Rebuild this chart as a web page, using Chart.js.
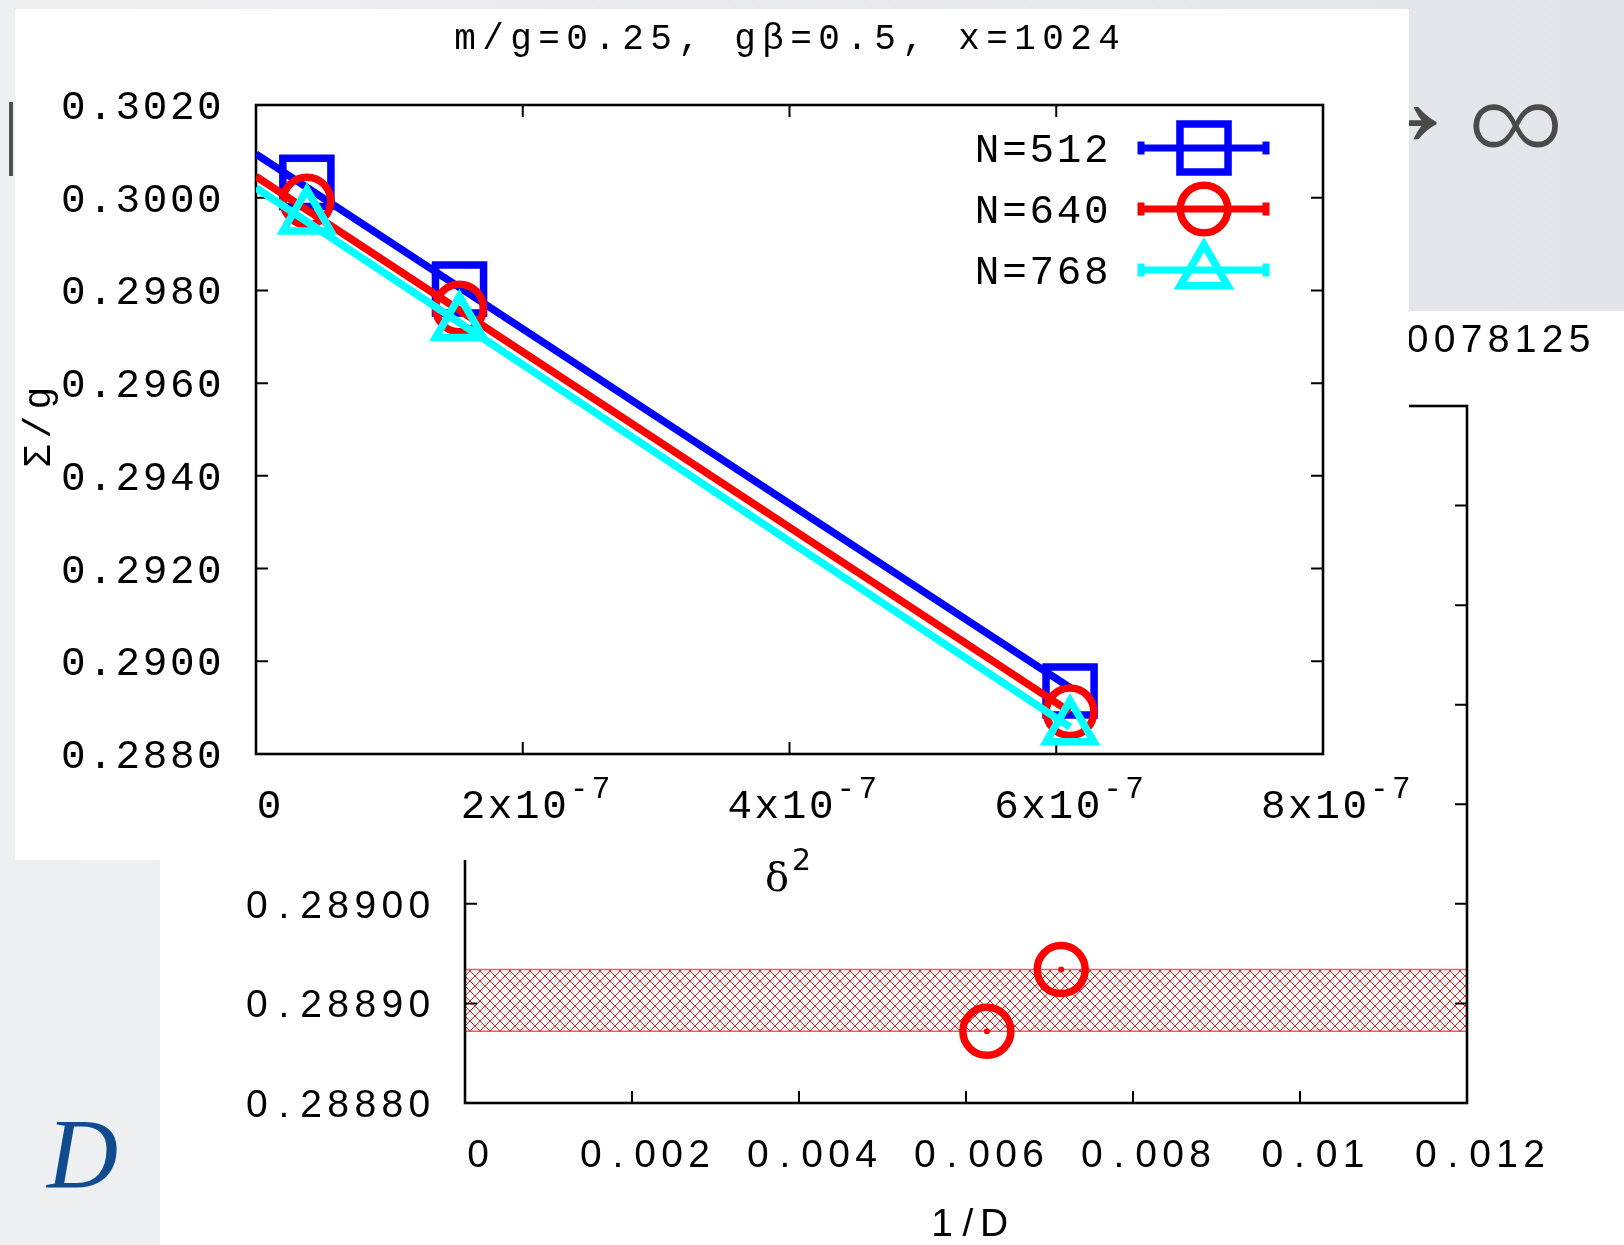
<!DOCTYPE html>
<html>
<head>
<meta charset="utf-8">
<title>Sigma/g vs delta^2 and 1/D</title>
<script src="https://cdn.jsdelivr.net/npm/chart.js@4.4.1/dist/chart.umd.min.js"></script>
<style>
  html, body { margin: 0; padding: 0; }
  body { width: 1624px; height: 1245px; overflow: hidden; position: relative; background: #e8eaed; }
  canvas { display: block; }
  #backdrop { position: absolute; left: 0; top: 0; }
  #insetWrap { position: absolute; left: 160px; top: 311px; width: 1464px; height: 934px; background: #ffffff; }
  #panel { position: absolute; left: 15px; top: 9px; width: 1394px; height: 851px; background: #ffffff; }
  #mainWrap { position: absolute; left: 0; top: 0; width: 1624px; height: 940px; }
</style>
</head>
<body>
<canvas id="backdrop" width="1624" height="1245"></canvas>
<div id="insetWrap"><canvas id="inset" width="1464" height="934"></canvas></div>
<div id="panel"></div>
<div id="mainWrap"><canvas id="main" width="1624" height="940"></canvas></div>

<script>
// ---------- main plot: Sigma/g against delta^2 ----------
const mainTitle = 'm/g=0.25, gβ=0.5, x=1024';
const seriesLabels = ['N=512', 'N=640', 'N=768'];
const deltaSq = [3.8147e-8, 1.5259e-7, 6.1035e-7];
const sigmaN512 = [0.30033, 0.29803, 0.28936];
const sigmaN640 = [0.29993, 0.29762, 0.28891];
const sigmaN768 = [0.29958, 0.29728, 0.28856];
// linear fits, evaluated at delta^2 = 0 and at the largest delta^2
const fitDeltaSq = [0, 6.1035e-7];
const fitN512 = [0.30094, 0.28943];
const fitN640 = [0.30046, 0.28891];
const fitN768 = [0.30021, 0.28858];
const xTicksMain = [0, 2e-7, 4e-7, 6e-7, 8e-7];
const xTickLabelsMain = ['0', '2x10', '4x10', '6x10', '8x10'];
const xTickExpMain = ['', '-7', '-7', '-7', '-7'];
const yTicksMain = [0.2880, 0.2900, 0.2920, 0.2940, 0.2960, 0.2980, 0.3000, 0.3020];
const yTickLabelsMain = ['0.2880', '0.2900', '0.2920', '0.2940', '0.2960', '0.2980', '0.3000', '0.3020'];

// ---------- inset: Sigma/g against 1/D ----------
const insetTitleTail = '0078125';
const invD = [0.00625, 0.00714];
const sigmaInset = [0.288872, 0.288934];
const bandX = [0, 0.012];
const bandLower = [0.288872, 0.288872];
const bandUpper = [0.288934, 0.288934];
const xTicksInset = [0, 0.002, 0.004, 0.006, 0.008, 0.010, 0.012];
const xTickLabelsInset = ['0', '0.002', '0.004', '0.006', '0.008', '0.01', '0.012'];
const yTicksInset = [0.28880, 0.28890, 0.28900, 0.28910, 0.28920, 0.28930, 0.28940, 0.28950];
const yTickLabelsInset = ['0.28880', '0.28890', '0.28900', '0.28910', '0.28920', '0.28930', '0.28940', '0.28950'];

const MONO = '"Liberation Mono", "DejaVu Sans Mono", monospace';
const SANS = '"Liberation Sans", Arial, sans-serif';

function toPoints(xs, ys) { return xs.map((x, i) => ({ x: x, y: ys[i] })); }

// draw a string with a fixed advance per character
function spacedText(ctx, str, x, baseline, pitch, align) {
  const chars = Array.from(str);
  const w = chars.length * pitch;
  const x0 = align === 'right' ? x - w : (align === 'center' ? x - w / 2 : x);
  ctx.save();
  ctx.textAlign = 'center';
  ctx.textBaseline = 'alphabetic';
  chars.forEach((c, i) => ctx.fillText(c, x0 + pitch * (i + 0.5), baseline));
  ctx.restore();
  return w;
}

function drawMarker(ctx, style, x, y, r) {
  ctx.beginPath();
  if (style === 'rect') {
    const s = Math.SQRT1_2 * r;
    ctx.rect(x - s, y - s, 2 * s, 2 * s);
  } else if (style === 'circle') {
    ctx.arc(x, y, r, 0, Math.PI * 2);
  } else {
    const a = 2 * Math.PI / 3;
    ctx.moveTo(x, y - r);
    ctx.lineTo(x + Math.sin(a) * r, y - Math.cos(a) * r);
    ctx.lineTo(x + Math.sin(2 * a) * r, y - Math.cos(2 * a) * r);
    ctx.closePath();
  }
  ctx.stroke();
}

// ---------- backdrop of the slide ----------
(function drawBackdrop() {
  const c = document.getElementById('backdrop');
  const ctx = c.getContext('2d');
  const g = ctx.createLinearGradient(0, 0, 1624, 0);
  g.addColorStop(0, '#eef0f2');
  g.addColorStop(1, '#e2e5e9');
  ctx.fillStyle = g;
  ctx.fillRect(0, 0, 1624, 1245);

  ctx.fillStyle = '#4f4f4f';
  ctx.fillRect(9, 102, 4, 74);

  function glyphByHeight(ch, font, targetH, left, right, top) {
    ctx.font = font(100);
    let m = ctx.measureText(ch);
    const size = 100 * targetH / (m.actualBoundingBoxAscent + m.actualBoundingBoxDescent);
    ctx.font = font(size);
    m = ctx.measureText(ch);
    ctx.textAlign = 'left';
    ctx.textBaseline = 'alphabetic';
    const x = left !== null ? left + m.actualBoundingBoxLeft : right - m.actualBoundingBoxRight;
    ctx.fillText(ch, x, top + m.actualBoundingBoxAscent);
  }
  ctx.fillStyle = '#4a4a4a';
  glyphByHeight('∞', s => '300 ' + s + 'px "Open Sans", "Noto Sans", sans-serif', 44, 1473, null, 104);
  glyphByHeight('→', s => '300 ' + s + 'px "Open Sans", "Noto Sans", sans-serif', 33, null, 1437, 107);
  ctx.fillStyle = '#0f4b8e';
  glyphByHeight('D', s => 'italic ' + s + 'px "Liberation Serif"', 65, 45, null, 1122);
})();

// ---------- inset chart ----------
function hatchPattern() {
  const n = 10;
  const c = document.createElement('canvas');
  c.width = n; c.height = n;
  const g = c.getContext('2d');
  g.strokeStyle = '#ff1a1a';
  g.lineWidth = 1;
  g.beginPath();
  g.moveTo(-1, -1); g.lineTo(n + 1, n + 1);
  g.moveTo(n + 1, -1); g.lineTo(-1, n + 1);
  g.stroke();
  return g.createPattern(c, 'repeat');
}

const insetDecor = {
  id: 'insetDecor',
  afterDatasetsDraw(chart) {
    const { ctx, chartArea: a, scales: { x, y } } = chart;
    ctx.save();
    ctx.strokeStyle = '#000';
    ctx.lineWidth = 2.6;
    ctx.strokeRect(a.left, a.top, a.right - a.left, a.bottom - a.top);
    ctx.lineWidth = 2;
    ctx.beginPath();
    xTicksInset.forEach(v => {
      const px = x.getPixelForValue(v);
      ctx.moveTo(px, a.bottom); ctx.lineTo(px, a.bottom - 12);
      ctx.moveTo(px, a.top); ctx.lineTo(px, a.top + 12);
    });
    yTicksInset.forEach(v => {
      const py = y.getPixelForValue(v);
      ctx.moveTo(a.left, py); ctx.lineTo(a.left + 12, py);
      ctx.moveTo(a.right, py); ctx.lineTo(a.right - 12, py);
    });
    ctx.stroke();

    ctx.fillStyle = '#000';
    ctx.font = '39px ' + SANS;
    yTicksInset.forEach((v, i) => {
      spacedText(ctx, yTickLabelsInset[i], a.left - 32, y.getPixelForValue(v) + 14, 27.1, 'right');
    });
    xTicksInset.forEach((v, i) => {
      spacedText(ctx, xTickLabelsInset[i], x.getPixelForValue(v) + 13, 856, 27.1, 'center');
    });
    spacedText(ctx, '1/D', (a.left + a.right) / 2 + 2, 925, 26, 'center');
    spacedText(ctx, insetTitleTail, 1433, 41, 27, 'right');
    ctx.restore();
  }
};

new Chart(document.getElementById('inset'), {
  type: 'scatter',
  data: {
    datasets: [
      {
        label: 'band low',
        data: toPoints(bandX, bandLower),
        showLine: true, fill: false,
        borderColor: '#ff5a5a', borderWidth: 1.4,
        pointRadius: 0, order: 4
      },
      {
        label: 'band high',
        data: toPoints(bandX, bandUpper),
        showLine: true, fill: '-1',
        backgroundColor: hatchPattern(),
        borderColor: '#ff5a5a', borderWidth: 1.4,
        pointRadius: 0, order: 3
      },
      {
        label: 'N=640',
        data: toPoints(invD, sigmaInset),
        showLine: false,
        pointStyle: 'circle', pointRadius: 24,
        pointBorderWidth: 7.5, pointBorderColor: '#ff0000',
        pointBackgroundColor: 'rgba(0,0,0,0)',
        clip: false, order: 2
      },
      {
        label: 'N=640 centre',
        data: toPoints(invD, sigmaInset),
        showLine: false,
        pointStyle: 'circle', pointRadius: 3,
        pointBorderWidth: 0, pointBackgroundColor: '#ff0000',
        clip: false, order: 1
      }
    ]
  },
  options: {
    responsive: false, animation: false, devicePixelRatio: 1, events: [],
    layout: { padding: { left: 305, right: 157, top: 95, bottom: 142 } },
    scales: {
      x: { type: 'linear', min: 0, max: 0.012, display: false },
      y: { type: 'linear', min: 0.2888, max: 0.2895, display: false }
    },
    plugins: { legend: { display: false }, tooltip: { enabled: false } }
  },
  plugins: [insetDecor]
});

// ---------- main chart ----------
const seriesColors = ['#0000ff', '#ff0000', '#00ffff'];
const seriesStyles = ['rect', 'circle', 'triangle'];
const seriesRadii = [34, 23.8, 27.5];
const seriesValues = [sigmaN512, sigmaN640, sigmaN768];
const seriesFits = [fitN512, fitN640, fitN768];

const mainDatasets = [];
seriesLabels.forEach((label, i) => {
  mainDatasets.push({
    label: label + ' fit',
    data: toPoints(fitDeltaSq, seriesFits[i]),
    showLine: true,
    borderColor: seriesColors[i], borderWidth: 7.5,
    pointRadius: 0,
    order: 10 - 2 * i
  });
  mainDatasets.push({
    label: label,
    data: toPoints(deltaSq, seriesValues[i]),
    showLine: false,
    pointStyle: seriesStyles[i], pointRadius: seriesRadii[i],
    pointBorderWidth: 7.5, pointBorderColor: seriesColors[i],
    pointBackgroundColor: 'rgba(0,0,0,0)',
    clip: false,
    order: 9 - 2 * i
  });
});

const mainDecor = {
  id: 'mainDecor',
  beforeDatasetsDraw(chart) {
    const { ctx, chartArea: a, scales: { x, y } } = chart;
    ctx.save();
    ctx.strokeStyle = '#000';
    ctx.lineWidth = 2.6;
    ctx.strokeRect(a.left, a.top, a.right - a.left, a.bottom - a.top);
    ctx.lineWidth = 2;
    ctx.beginPath();
    xTicksMain.forEach(v => {
      const px = x.getPixelForValue(v);
      ctx.moveTo(px, a.bottom); ctx.lineTo(px, a.bottom - 12);
      ctx.moveTo(px, a.top); ctx.lineTo(px, a.top + 12);
    });
    yTicksMain.forEach(v => {
      const py = y.getPixelForValue(v);
      ctx.moveTo(a.left, py); ctx.lineTo(a.left + 12, py);
      ctx.moveTo(a.right, py); ctx.lineTo(a.right - 12, py);
    });
    ctx.stroke();

    ctx.fillStyle = '#000';
    // title
    ctx.font = '36px ' + MONO;
    spacedText(ctx, mainTitle, 787, 49, 28, 'center');

    // y tick labels
    ctx.font = '41px ' + MONO;
    yTicksMain.forEach((v, i) => {
      spacedText(ctx, yTickLabelsMain[i], a.left - 33, y.getPixelForValue(v) + 14, 27.2, 'right');
    });

    // x tick labels with exponent
    xTicksMain.forEach((v, i) => {
      const px = x.getPixelForValue(v);
      const main = xTickLabelsMain[i];
      const exp = xTickExpMain[i];
      const wMain = Array.from(main).length * 27.2;
      const wExp = Array.from(exp).length * 22;
      const start = px + 13 - (wMain + wExp) / 2;
      ctx.font = '41px ' + MONO;
      spacedText(ctx, main, start, 818, 27.2, 'left');
      if (exp) {
        ctx.font = '31px ' + MONO;
        spacedText(ctx, exp, start + wMain, 798, 22, 'left');
      }
    });

    // axis titles
    ctx.font = '40px "DejaVu Serif", serif';
    ctx.textAlign = 'left';
    ctx.textBaseline = 'alphabetic';
    ctx.fillText('δ', 765, 891);
    ctx.font = '30px "DejaVu Sans", sans-serif';
    ctx.fillText('2', 792, 870);

    ctx.save();
    ctx.translate(36, 427);
    ctx.rotate(-Math.PI / 2);
    ctx.font = '38px ' + MONO;
    spacedText(ctx, 'Σ/g', 0, 14, 29, 'center');
    ctx.restore();
    ctx.restore();
  },
  afterDatasetsDraw(chart) {
    const { ctx } = chart;
    ctx.save();
    seriesLabels.forEach((label, i) => {
      const yy = 148 + i * 61;
      ctx.fillStyle = '#000';
      ctx.font = '41px ' + MONO;
      spacedText(ctx, label, 1110, yy + 14, 27.3, 'right');
      ctx.strokeStyle = seriesColors[i];
      ctx.lineWidth = 7;
      ctx.beginPath();
      ctx.moveTo(1138, yy); ctx.lineTo(1269, yy);
      ctx.moveTo(1141, yy - 6.5); ctx.lineTo(1141, yy + 6.5);
      ctx.moveTo(1266, yy - 6.5); ctx.lineTo(1266, yy + 6.5);
      ctx.stroke();
      ctx.lineWidth = 7.5;
      drawMarker(ctx, seriesStyles[i], 1204, i === 2 ? yy + 2 : yy, seriesRadii[i]);
    });
    ctx.restore();
  }
};

new Chart(document.getElementById('main'), {
  type: 'scatter',
  data: { datasets: mainDatasets },
  options: {
    responsive: false, animation: false, devicePixelRatio: 1, events: [],
    layout: { padding: { left: 256, right: 301, top: 105, bottom: 186 } },
    scales: {
      x: { type: 'linear', min: 0, max: 8e-7, display: false },
      y: { type: 'linear', min: 0.2880, max: 0.3020, display: false }
    },
    plugins: { legend: { display: false }, tooltip: { enabled: false } }
  },
  plugins: [mainDecor]
});
</script>
</body>
</html>
